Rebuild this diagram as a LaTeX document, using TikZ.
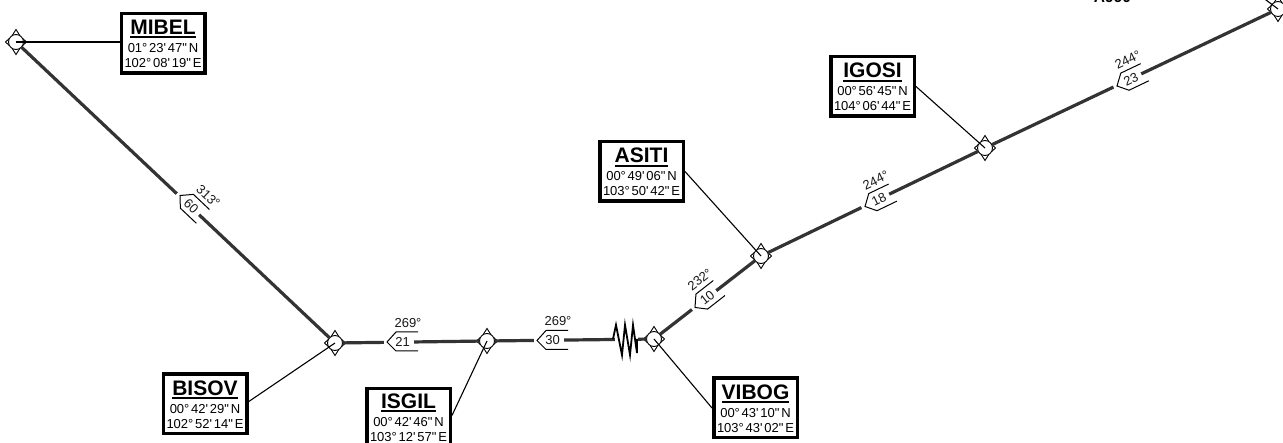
\documentclass[tikz,border=0pt]{standalone}
\usepackage{fontspec}
\newfontfamily\ar{Liberation Sans}
\tikzset{
  routeline/.style={line width=3.2pt,draw=black!80},
  leader/.style={line width=1.1pt,draw=black},
  wpt/.style={circle,draw=black,line width=0.9pt,minimum size=15pt,inner sep=0pt,outer sep=0pt},
  wstar/.style={line width=0.9pt,draw=black,line join=miter},
  flagline/.style={line width=1pt,draw=black},
  flagtxt/.style={font=\ar\fontsize{13}{13}\selectfont,transform shape,inner sep=0pt,text=black!90},
  fixbox/.style={rectangle,draw=black,line width=3.5pt,inner sep=0pt,minimum width=83.5pt,minimum height=59.5pt,align=center,
    text height=54.25pt,text depth=5.25pt,
    font=\ar\fontsize{13}{15}\selectfont,fill=white}
}
\newcommand{\wptat}[3]{\begin{scope}[shift={(#2,#3)}]
  \node[wpt] (#1) at (0,0) {};
  \draw[wstar] (-4,-6.2) -- (0,-12.5) -- (4,-6.2);
  \draw[wstar] (-4,6.2) -- (0,12.5) -- (4,6.2);
  \draw[wstar] (6.4,-3.8) -- (10.5,0) -- (6.4,3.8);
  \draw[wstar] (-6.4,-3.8) -- (-10.5,0) -- (-6.4,3.8);
\end{scope}}
\newcommand{\nmline}[1]{\smash{\vtop{\hbox{\fontsize{21}{21}\selectfont\bfseries #1}\kern1.5pt\hrule height 2pt}}}
\newcommand{\gp}{\kern1.8pt}
\newcommand{\fixat}[7][]{\node[fixbox,#1] (#2) at (#3,#4) {\nmline{#5}\\[3pt]#6\\#7};}
\newcommand{\flagat}[6]{\begin{scope}[shift={(#2,#3)},rotate=#4]
  \fill[white] (-3.5,-4) rectangle (27,4);
  \draw[flagline] (31,-10) -- (9,-10) -- (0,0) -- (9,9) -- (31,9);
  \node[flagtxt] (#1n) at (15.5,0) {#5};
  \node[flagtxt] (#1b) at (21,-19) {#6};
\end{scope}}
\begin{document}
\begin{tikzpicture}[x=1pt,y=-1pt]
\clip (0,0) rectangle (1283,443);
\fill[white] (0,0) rectangle (1283,443);
\wptat{wmibel}{16}{42}
\wptat{wbisov}{335}{343}
\wptat{wisgil}{487}{341}
\wptat{wvibog}{654}{339}
\wptat{wasiti}{761}{256}
\wptat{wigosi}{985}{148}
\wptat{wend}{1278}{9}
\coordinate (offtop) at (1262,-3);
\draw[routeline] (wmibel) -- (wbisov);
\draw[routeline] (wbisov) -- (wisgil);
\draw[routeline] (wisgil) -- (wvibog);
\draw[routeline] (wvibog) -- (wasiti);
\draw[routeline] (wasiti) -- (wigosi);
\draw[routeline] (wigosi) -- (wend);
\fill[white] (614.5,335) rectangle (638,344);
\draw[line width=1.8pt,draw=black,line join=miter] (613,339) -- (616,325) -- (622,355) -- (625,325) -- (630,355) -- (633,325) -- (637,353) -- (637,339);
\flagat{fa}{180}{195.5}{-43.3}{60}{313°}
\flagat{fb}{387}{342}{0}{21}{269°}
\flagat{fc}{537}{340.5}{0}{30}{269°}
\flagat{fd}{695}{307.5}{38}{10}{232°}
\flagat{fe}{865}{206.5}{25.7}{18}{244°}
\flagat{ff}{1117}{86}{25.5}{23}{244°}
\fixat{mibel}{163}{43.5}{MIBEL}{01°\gp23'\gp47"\gp N}{102°\gp08'\gp19"\gp E}
\fixat{bisov}{205}{404}{BISOV}{00°\gp42'\gp29"\gp N}{102°\gp52'\gp14"\gp E}
\fixat[text height=52.75pt,text depth=6.75pt]{isgil}{408.5}{418.5}{ISGIL}{00°\gp42'\gp46"\gp N}{103°\gp12'\gp57"\gp E}
\fixat{vibog}{755.5}{408}{VIBOG}{00°\gp43'\gp10"\gp N}{103°\gp43'\gp02"\gp E}
\fixat{asiti}{641.5}{171.5}{ASITI}{00°\gp49'\gp06"\gp N}{103°\gp50'\gp42"\gp E}
\fixat{igosi}{872.5}{86.5}{IGOSI}{00°\gp56'\gp45"\gp N}{104°\gp06'\gp44"\gp E}
\draw[leader] (mibel.west |- wmibel) -- (wmibel.center);
\draw[leader] (bisov.3) -- (wbisov.center);
\draw[leader] (isgil.4) -- (wisgil.center);
\draw[leader] (vibog.west) -- (wvibog.center);
\draw[leader] (asiti.east) -- (wasiti.center);
\draw[leader] (igosi.east) -- (wigosi.center);
\draw[leader] (offtop) -- (wend.center);
\node[font=\ar\bfseries\fontsize{15.5}{15.5}\selectfont,anchor=base,inner sep=0pt] (aw) at (1112.5,3) {A990};
\end{tikzpicture}
\end{document}
